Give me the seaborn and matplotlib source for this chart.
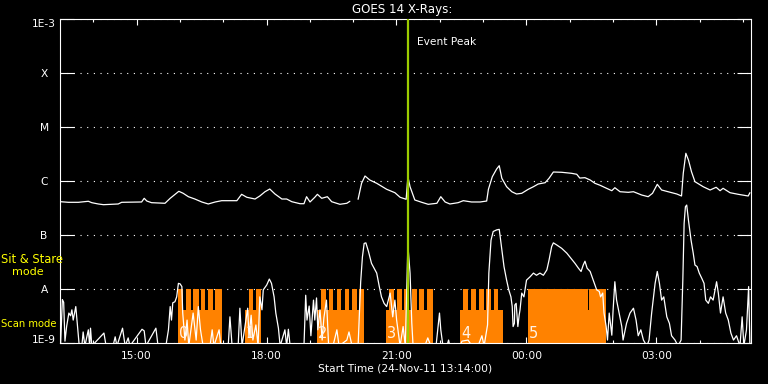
import numpy as np
import pandas as pd
import matplotlib
matplotlib.use("Agg")
import matplotlib.pyplot as plt
import matplotlib.ticker as mticker
import matplotlib.transforms as mtransforms
import seaborn as sns

# ---------------- data ----------------
title = "GOES 14 X-Rays:"
xlabel = "Start Time (24-Nov-11 13:14:00)"
start_hhmm = "13:14"
span_hours = 15.95
xtick_labels = ["15:00", "18:00", "21:00", "00:00", "03:00"]
ytick_values = [1e-9, 1e-8, 1e-7, 1e-6, 1e-5, 1e-4, 1e-3]
ytick_labels = ["1E-9", "A", "B", "C", "M", "X", "1E-3"]
event_hhmm = "21:16"
event_label = "Event Peak"

# long channel (1-8 A): hours after start, log10 flux (NaN = data gap)
long_hours = [0.01, 0.19, 0.42, 0.65, 0.73, 0.88, 1.00, 1.34, 1.42, 1.88, 1.94, 2.00, 2.11,
              2.42, 2.54, 2.74, 2.84, 2.96, 3.11, 3.27, 3.42, 3.58, 3.73, 3.92, 4.08, 4.19,
              4.31, 4.50, 4.61, 4.73, 4.84, 4.96, 5.12, 5.23, 5.35, 5.54, 5.63, 5.69, 5.77,
              5.88, 5.94, 6.04, 6.17, 6.27, 6.46, 6.62, 6.69, 6.78, 6.88, 6.96, 7.04, 7.15,
              7.31, 7.54, 7.73, 7.85, 7.99, 8.03, 8.08, 8.19, 8.35, 8.50, 8.70, 8.79, 8.89,
              9.00, 9.19, 9.31, 9.50, 9.70, 9.85, 9.89, 9.98, 10.08, 10.14, 10.20, 10.31,
              10.43, 10.54, 10.66, 10.81, 10.93, 11.04, 11.20, 11.29, 11.39, 11.58, 11.81,
              11.93, 12.00, 12.12, 12.24, 12.35, 12.47, 12.62, 12.74, 12.81, 12.93, 13.12,
              13.24, 13.43, 13.58, 13.68, 13.79, 13.89, 14.04, 14.24, 14.35, 14.39, 14.45,
              14.51, 14.58, 14.66, 14.85, 15.01, 15.15, 15.24, 15.31, 15.47, 15.66, 15.89, 15.93]
long_logflux = [-6.378, -6.389, -6.389, -6.370, -6.396, -6.420, -6.433, -6.420, -6.389, -6.383,
                -6.315, -6.365, -6.396, -6.407, -6.315, -6.185, -6.222, -6.285, -6.328, -6.383,
                -6.420, -6.383, -6.359, -6.359, -6.359, -6.241, -6.296, -6.328, -6.272, -6.193,
                -6.143, -6.235, -6.328, -6.328, -6.378, -6.415, -6.415, -6.285, -6.383, -6.296,
                -6.241, -6.315, -6.285, -6.378, -6.426, -6.407, -6.370, np.nan, -6.333, -6.037,
                -5.902, -5.976, -6.037, -6.148, -6.211, -6.296, -6.333, -5.915, -6.100, -6.346,
                -6.389, -6.426, -6.407, -6.285, -6.383, -6.420, -6.396, -6.359, -6.383, -6.383,
                -6.365, -6.148, -5.915, -5.772, -5.711, -5.944, -6.100, -6.193, -6.235, -6.222,
                -6.148, -6.100, -6.050, -6.026, -5.944, -5.828, -5.833, -5.852, -5.870, -5.940,
                -5.933, -5.976, -6.037, -6.074, -6.130, -6.174, -6.119, -6.193, -6.204, -6.193,
                -6.254, -6.285, -6.222, -6.056, -6.161, -6.193, -6.235, -6.272, -5.852, -5.481,
                -5.606, -5.822, -6.007, -6.100, -6.161, -6.111, -6.174, -6.130, -6.211, -6.241,
                -6.272, -6.211]

# short channel (0.5-4 A): hours after start, log10 flux
short_hours = [0.01, 0.05, 0.08, 0.11, 0.15, 0.20, 0.24, 0.27, 0.30, 0.36, 0.40, 0.44, 0.50,
               0.53, 0.57, 0.65, 0.68, 0.70, 0.73, 1.01, 1.06, 1.22, 1.27, 1.31, 1.44, 1.50,
               1.57, 1.61, 1.89, 1.94, 1.98, 2.21, 2.26, 2.44, 2.50, 2.54, 2.57, 2.60, 2.65,
               2.69, 2.73, 2.77, 2.81, 2.83, 2.88, 2.93, 2.97, 3.07, 3.14, 3.19, 3.24, 3.30,
               3.46, 3.51, 3.55, 3.67, 3.71, 3.88, 3.92, 3.97, 4.11, 4.15, 4.20, 4.29, 4.33,
               4.36, 4.41, 4.45, 4.52, 4.57, 4.61, 4.66, 4.69, 4.77, 4.83, 4.88, 4.94, 4.98,
               5.04, 5.08, 5.19, 5.23, 5.27, 5.31, 5.63, 5.67, 5.70, 5.75, 5.79, 5.85, 5.88,
               5.92, 5.95, 6.00, 6.05, 6.09, 6.15, 6.20, 6.30, 6.39, 6.44, 6.62, 6.67, 6.74,
               6.88, 6.94, 6.98, 7.02, 7.06, 7.12, 7.19, 7.31, 7.37, 7.42, 7.48, 7.54, 7.62,
               7.68, 7.73, 7.77, 7.85, 7.92, 7.97, 8.03, 8.08, 8.12, 8.15, 8.42, 8.49, 8.56,
               8.68, 8.73, 8.76, 8.79, 8.84, 8.93, 8.97, 9.00, 9.23, 9.28, 9.42, 9.51, 9.65,
               9.74, 9.79, 9.87, 9.90, 9.95, 10.00, 10.08, 10.14, 10.20, 10.25, 10.31, 10.36,
               10.41, 10.44, 10.46, 10.49, 10.50, 10.53, 10.57, 10.60, 10.62, 10.66, 10.71,
               10.77, 10.85, 10.93, 11.00, 11.08, 11.16, 11.24, 11.29, 11.35, 11.39, 11.47,
               11.58, 11.70, 11.77, 11.89, 11.97, 12.03, 12.08, 12.12, 12.17, 12.24, 12.31,
               12.39, 12.45, 12.48, 12.53, 12.56, 12.61, 12.64, 12.68, 12.74, 12.77, 12.81,
               12.85, 12.91, 12.97, 13.00, 13.08, 13.16, 13.24, 13.30, 13.35, 13.41, 13.47,
               13.55, 13.60, 13.66, 13.74, 13.79, 13.84, 13.89, 13.94, 14.01, 14.07, 14.12,
               14.20, 14.27, 14.34, 14.38, 14.41, 14.44, 14.47, 14.51, 14.57, 14.62, 14.66,
               14.71, 14.76, 14.82, 14.87, 14.91, 14.97, 15.02, 15.08, 15.16, 15.20, 15.25,
               15.31, 15.37, 15.43, 15.49, 15.55, 15.62, 15.70, 15.75, 15.79, 15.85, 15.90, 15.93]
short_logflux = [-9.00, -8.19, -8.24, -8.96, -8.68, -8.44, -8.49, -8.38, -8.57, -8.32, -8.69,
                 -9.05, -9.05, -8.79, -9.05, -8.75, -9.05, -8.72, -9.05, -8.81, -9.05, -9.05,
                 -8.88, -9.05, -8.72, -9.05, -8.90, -9.05, -8.74, -8.77, -9.05, -8.72, -9.05,
                 -9.05, -8.75, -8.32, -8.57, -8.25, -8.23, -8.14, -7.89, -7.90, -7.95, -8.44,
                 -8.94, -8.57, -9.05, -8.44, -8.94, -8.32, -8.75, -9.05, -9.05, -8.75, -9.05,
                 -8.75, -9.05, -9.05, -8.51, -9.05, -9.05, -8.35, -9.05, -8.57, -8.35, -8.88,
                 -8.48, -8.94, -8.66, -9.05, -8.14, -8.38, -8.01, -7.92, -7.81, -7.89, -8.14,
                 -8.44, -8.72, -9.05, -8.75, -9.05, -8.74, -9.05, -9.05, -8.11, -8.57, -8.31,
                 -8.86, -8.20, -8.57, -8.16, -8.75, -8.38, -8.94, -8.53, -8.20, -9.05, -9.05,
                 -8.75, -9.05, -8.94, -8.79, -9.05, -9.05, -7.86, -7.40, -7.15, -7.14, -7.30,
                 -7.52, -7.70, -7.95, -8.14, -8.26, -8.32, -8.07, -8.51, -8.20, -8.57, -9.05,
                 -8.69, -9.05, -7.18, -7.70, -8.62, -9.05, -9.05, -8.90, -9.05, -9.05, -8.68,
                 -8.44, -8.75, -9.05, -9.05, -8.94, -9.05, -9.05, -8.96, -8.94, -9.05, -9.05,
                 -8.86, -9.05, -8.66, -7.70, -7.09, -6.93, -6.90, -6.89, -7.27, -7.58, -7.83,
                 -8.01, -8.14, -8.32, -8.69, -8.63, -8.29, -8.26, -8.69, -8.48, -8.38, -8.07,
                 -8.14, -7.83, -7.77, -7.70, -7.74, -7.70, -7.74, -7.64, -7.46, -7.21, -7.14,
                 -7.18, -7.24, -7.33, -7.40, -7.52, -7.61, -7.67, -7.55, -7.48, -7.61, -7.67,
                 -7.83, -8.01, -8.04, -8.14, -8.07, -8.44, -8.69, -8.94, -8.44, -8.85, -8.38,
                 -7.86, -8.20, -8.44, -8.69, -8.94, -8.63, -8.44, -8.35, -8.57, -8.86, -8.75,
                 -8.94, -9.05, -8.94, -8.44, -7.89, -7.67, -7.89, -8.20, -8.14, -8.51, -8.63,
                 -8.86, -8.94, -9.05, -8.94, -7.83, -6.78, -6.47, -6.44, -6.72, -7.09, -7.33,
                 -7.55, -7.58, -7.70, -7.80, -7.89, -8.20, -8.26, -8.14, -8.20, -7.86, -8.07,
                 -8.44, -8.14, -8.44, -8.57, -8.81, -8.94, -8.86, -9.05, -8.51, -9.05, -8.75,
                 -7.95, -9.05]

# instrument mode blocks (hours after start)
scan_start = [2.714, 4.261, 5.938, 7.524, 9.233, 10.804]
scan_end = [3.737, 4.637, 7.016, 8.610, 10.226, 12.606]
scan_names = ["0", "1", "2", "3", "4", "5"]
scan_level = 4.1e-9
stare_start = [2.714, 2.910, 3.074, 3.245, 3.413, 3.582, 4.367, 4.522, 6.030, 6.215, 6.386,
               6.570, 6.739, 6.908, 7.600, 7.771, 7.940, 8.125, 8.293, 8.464, 9.310, 9.487,
               9.672, 9.834, 10.018, 10.804, 12.215]
stare_end = [2.843, 3.014, 3.199, 3.351, 3.522, 3.737, 4.460, 4.637, 6.139, 6.307, 6.492,
             6.663, 6.848, 7.016, 7.709, 7.894, 8.062, 8.233, 8.402, 8.610, 9.418, 9.603,
             9.788, 9.949, 10.122, 12.192, 12.606]
stare_level = 1e-8

# ---------------- helpers ----------------
def hhmm_to_hours(s):
    h, m = s.split(":")
    return ((int(h) * 60 + int(m) - (int(start_hhmm[:2]) * 60 + int(start_hhmm[3:]))) % 1440) / 60.0

xtick_pos = [hhmm_to_hours(s) for s in xtick_labels]
event_t = hhmm_to_hours(event_hhmm)

# ---------------- style ----------------
sns.set_theme(style="ticks", rc={
    "axes.facecolor": "black", "figure.facecolor": "black", "savefig.facecolor": "black",
    "text.color": "white", "axes.edgecolor": "white", "axes.labelcolor": "white",
    "xtick.color": "white", "ytick.color": "white",
})
plt.rcParams["font.family"] = ["DejaVu Sans"]

W, H = 768, 384
fig = plt.figure(figsize=(W / 100, H / 100), dpi=100)
x0, x1, y0, y1 = 60.2, 750.8, 19.3, 343.3
ax = fig.add_axes([x0 / W, 1 - y1 / H, (x1 - x0) / W, (y1 - y0) / H])
ax.set_facecolor("black")
ax.set_yscale("log")

orange = "#ff8200"
floor = 1e-10
ax.bar(scan_start, [scan_level - floor] * len(scan_start),
       width=np.array(scan_end) - np.array(scan_start), bottom=floor, align="edge",
       color=orange, linewidth=0, zorder=1)
ax.bar(stare_start, [stare_level - floor] * len(stare_start),
       width=np.array(stare_end) - np.array(stare_start), bottom=floor, align="edge",
       color=orange, linewidth=0, zorder=1)

# curves
long_df = pd.DataFrame({"t": long_hours, "f": 10 ** np.array(long_logflux)})
long_df["seg"] = long_df["f"].isna().cumsum()
long_df = long_df.dropna()
sns.lineplot(data=long_df, x="t", y="f", units="seg", estimator=None, sort=False,
             color="white", linewidth=0.9, ax=ax, zorder=3)
short_df = pd.DataFrame({"t": short_hours, "f": 10 ** np.array(short_logflux)})
sns.lineplot(data=short_df, x="t", y="f", estimator=None, sort=False,
             color="white", linewidth=0.9, ax=ax, zorder=3)

# block labels
xtr = ax.get_xaxis_transform()
for s, name in zip(scan_start, scan_names):
    ax.text(s + 0.02, 0.0155, name, transform=xtr, color="#fff2e6", fontsize=10.5,
            ha="left", va="baseline", zorder=4)

# event peak
ax.axvline(event_t, color="#9ccc00", linewidth=1.6, zorder=6)
ax.annotate(event_label, xy=(event_t, 1.0), xycoords=("data", "axes fraction"),
            xytext=(6.8, -16.7), textcoords="offset points", color="white",
            fontsize=7.7, ha="left", va="center")

# axes
ax.set_xlim(0, span_hours)
ax.set_ylim(1e-9, 1e-3)
ax.set_xlabel("")
ax.set_ylabel("")
ax.set_axisbelow(True)
ax.yaxis.grid(True, color="white", linestyle=(0, (1, 5)), linewidth=0.8)
ax.xaxis.grid(False)
for sp in ax.spines.values():
    sp.set_color("white")
    sp.set_linewidth(0.8)
    sp.set_visible(True)

ax.set_yticks(ytick_values, ytick_labels)
ax.yaxis.set_minor_locator(mticker.NullLocator())
ax.tick_params(axis="y", which="major", direction="in", length=10.4, width=0.8,
               left=True, right=True, pad=11.6, labelsize=7.7, colors="white")
ylabels = ax.get_yticklabels()
for lbl in ylabels:
    lbl.set_horizontalalignment("center")
ylabels[0].set_verticalalignment("baseline")
ylabels[-1].set_verticalalignment("top")

ax.set_xticks(xtick_pos, xtick_labels)
ax.xaxis.set_minor_locator(mticker.MultipleLocator(1.0, offset=xtick_pos[0] % 1.0))
ax.tick_params(axis="x", which="major", direction="in", length=4.3, width=0.8,
               top=True, bottom=True, pad=5.8, labelsize=7.7, colors="white")
ax.tick_params(axis="x", which="minor", direction="in", length=2.2, width=0.8,
               top=True, bottom=True)

# texts
fig.text(402.5 / W, 1 - 12.7 / H, title, color="white", fontsize=8.6, ha="center", va="baseline")
fig.text(404.8 / W, 1 - 371.5 / H, xlabel, color="white", fontsize=7.7, ha="center", va="baseline")
fig.text(1.0 / W, 1 - 263.3 / H, "Sit & Stare", color="yellow", fontsize=8.3, ha="left", va="baseline")
fig.text(12.0 / W, 1 - 275.0 / H, "mode", color="yellow", fontsize=8.0, ha="left", va="baseline")
fig.text(1.0 / W, 1 - 327.3 / H, "Scan mode", color="yellow", fontsize=7.2, ha="left", va="baseline")

fig.savefig("out.png", dpi=100, facecolor="black")
